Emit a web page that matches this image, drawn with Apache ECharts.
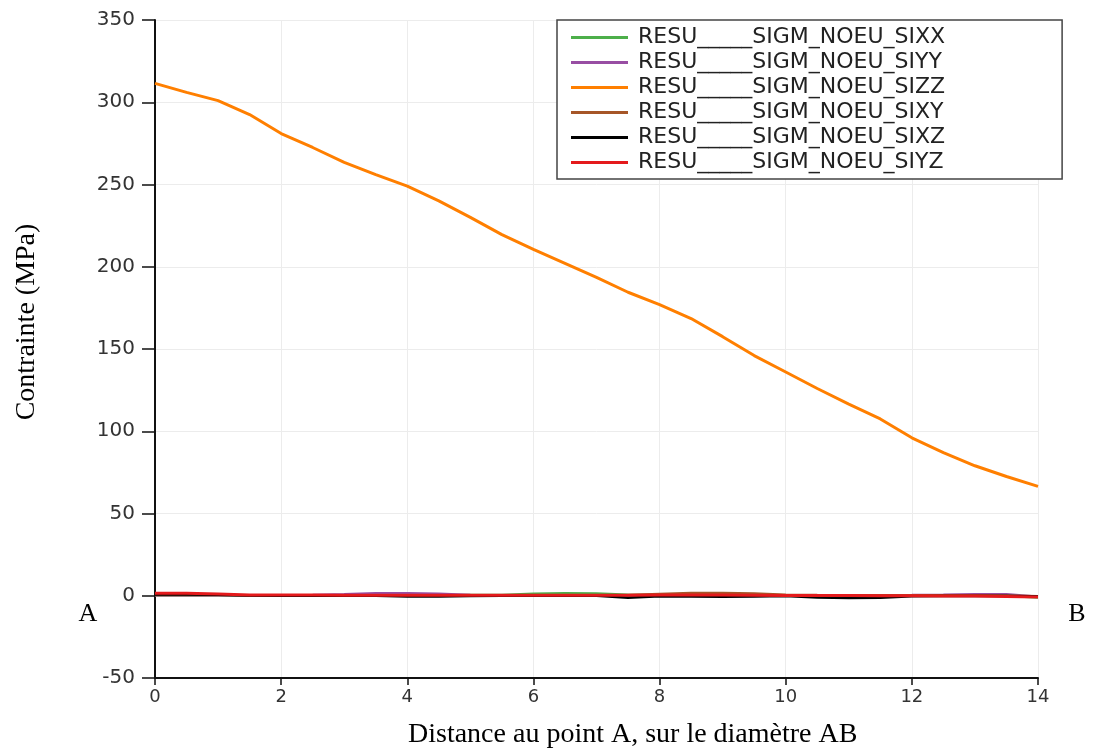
<!DOCTYPE html>
<html>
<head>
<meta charset="utf-8">
<script src="https://cdn.jsdelivr.net/npm/echarts@6/dist/echarts.min.js"></script>
<style>html,body{margin:0;padding:0;background:#fff}#c{width:1093px;height:755px}</style>
</head>
<body>
<div id="c"></div>
<script>
// Distance along AB (x axis)
var distance = [0,0.5,1,1.5,2,2.5,3,3.5,4,4.5,5,5.5,6,6.5,7,7.5,8,8.5,9,9.5,10,10.5,11,11.5,12,12.5,13,13.5,14];
var seriesNames = ['RESU_____SIGM_NOEU_SIXX','RESU_____SIGM_NOEU_SIYY','RESU_____SIGM_NOEU_SIZZ','RESU_____SIGM_NOEU_SIXY','RESU_____SIGM_NOEU_SIXZ','RESU_____SIGM_NOEU_SIYZ'];
var sixx = [0.3,0.3,0.3,0.2,0.2,0.2,0.3,0.3,0.3,0.3,0.4,0.5,1.2,1.5,1.4,0.6,0.4,0.4,0.5,0.4,0.3,0.2,0.2,0.2,0.3,0.3,0.2,0,-1];
var siyy = [0.3,0.3,0.3,0.3,0.3,0.4,0.9,1.5,1.5,1.2,0.5,0.3,0.3,0.3,0.3,0.2,0.2,0.3,0.3,0.2,0.2,0.2,0.3,0.3,0.4,0.6,0.9,0.9,-0.6];
var sizz = [311.5,306,301,292.5,281,272.5,263.5,256,249,240,230,219.5,210.5,202,193.5,184.5,177,168.5,157.5,146,136,126,116.5,107.5,96,87,79,72.5,66.5];
var sixy = [0.5,0.5,0.4,0.3,0.3,0.3,0.3,0.3,0.3,0.3,0.3,0.3,0.3,0.3,0.3,0.4,1.0,1.6,1.6,1.4,0.6,0.4,0.3,0.3,0.3,0.3,0.3,0.2,-0.3];
var sixz = [0.8,0.8,0.6,0.2,0,0,0,0,-0.4,-0.5,-0.2,0,0,0,0,-1.2,-0.3,-0.5,-0.6,-0.5,-0.2,-1.0,-1.4,-1.2,-0.3,-0.2,-0.1,-0.1,-0.5];
var siyz = [1.5,1.5,1.0,0.4,0.4,0.4,0.3,0.3,0.3,0.3,0.3,0.3,0.3,0.3,0.3,0.3,0.4,0.4,0.4,0.3,0.2,0.1,0.1,0.0,0.0,-0.1,-0.2,-0.4,-0.8];
var seriesValues = [sixx, siyy, sizz, sixy, sixz, siyz];
var colors = ['#4daf4a','#984ea3','#ff7f00','#a65628','#000000','#e41a1c'];
var widths = [2.5,2.5,3,2.5,2.5,3];
var yTicks = {min:-50, max:350, interval:50};
var xTicks = {min:0, max:14, interval:2};

function zip(xs, ys){ return xs.map(function(x,i){ return [x, ys[i]]; }); }

var chart = echarts.init(document.getElementById('c'), null, {renderer:'canvas'});
chart.setOption({
  animation:false,
  backgroundColor:'#fff',
  color:colors,
  grid:{left:155, right:55, top:20, bottom:77, containLabel:false},
  legend:{
    left:557, top:20, orient:'vertical', icon:'rect',
    padding:[5,117,4,14], itemGap:0, itemWidth:57, itemHeight:3,
    borderColor:'#444', borderWidth:1.5, backgroundColor:'#fff',
    textStyle:{fontFamily:'DejaVu Sans', fontSize:22, color:'#222', lineHeight:25, padding:[0,0,0,5]},
    data:seriesNames
  },
  xAxis:{
    type:'value', min:xTicks.min, max:xTicks.max, interval:xTicks.interval,
    axisLine:{onZero:false, lineStyle:{color:'#111', width:2}},
    axisTick:{length:7, lineStyle:{color:'#111', width:1.5}},
    axisLabel:{margin:10, fontFamily:'DejaVu Sans', fontSize:18, color:'#333'},
    splitLine:{show:true, lineStyle:{color:'#ececec', width:1}}
  },
  yAxis:{
    type:'value', min:yTicks.min, max:yTicks.max, interval:yTicks.interval,
    axisLine:{show:true, onZero:false, lineStyle:{color:'#111', width:2}},
    axisTick:{show:true, length:13, lineStyle:{color:'#111', width:1.5}},
    axisLabel:{margin:20, fontFamily:'DejaVu Sans', fontSize:20, color:'#333'},
    splitLine:{show:true, lineStyle:{color:'#ececec', width:1}}
  },
  graphic:[
    {type:'text', left:408, top:721, style:{text:'Distance au point A, sur le diamètre AB', font:'28px "Liberation Serif"', fill:'#000'}},
    {type:'text', x:27, y:322, rotation:Math.PI/2, style:{text:'Contrainte (MPa)', font:'28px "Liberation Serif"', fill:'#000', align:'center', verticalAlign:'middle'}},
    {type:'text', x:88, y:614, style:{text:'A', font:'26px "Liberation Serif"', fill:'#000', align:'center', verticalAlign:'middle'}},
    {type:'text', x:1077, y:614, style:{text:'B', font:'26px "Liberation Serif"', fill:'#000', align:'center', verticalAlign:'middle'}}
  ],
  series:seriesNames.map(function(n,i){
    return {name:n, type:'line', symbol:'none', data:zip(distance, seriesValues[i]),
      lineStyle:{color:colors[i], width:widths[i]}, itemStyle:{color:colors[i]}};
  })
});
</script>
</body>
</html>
